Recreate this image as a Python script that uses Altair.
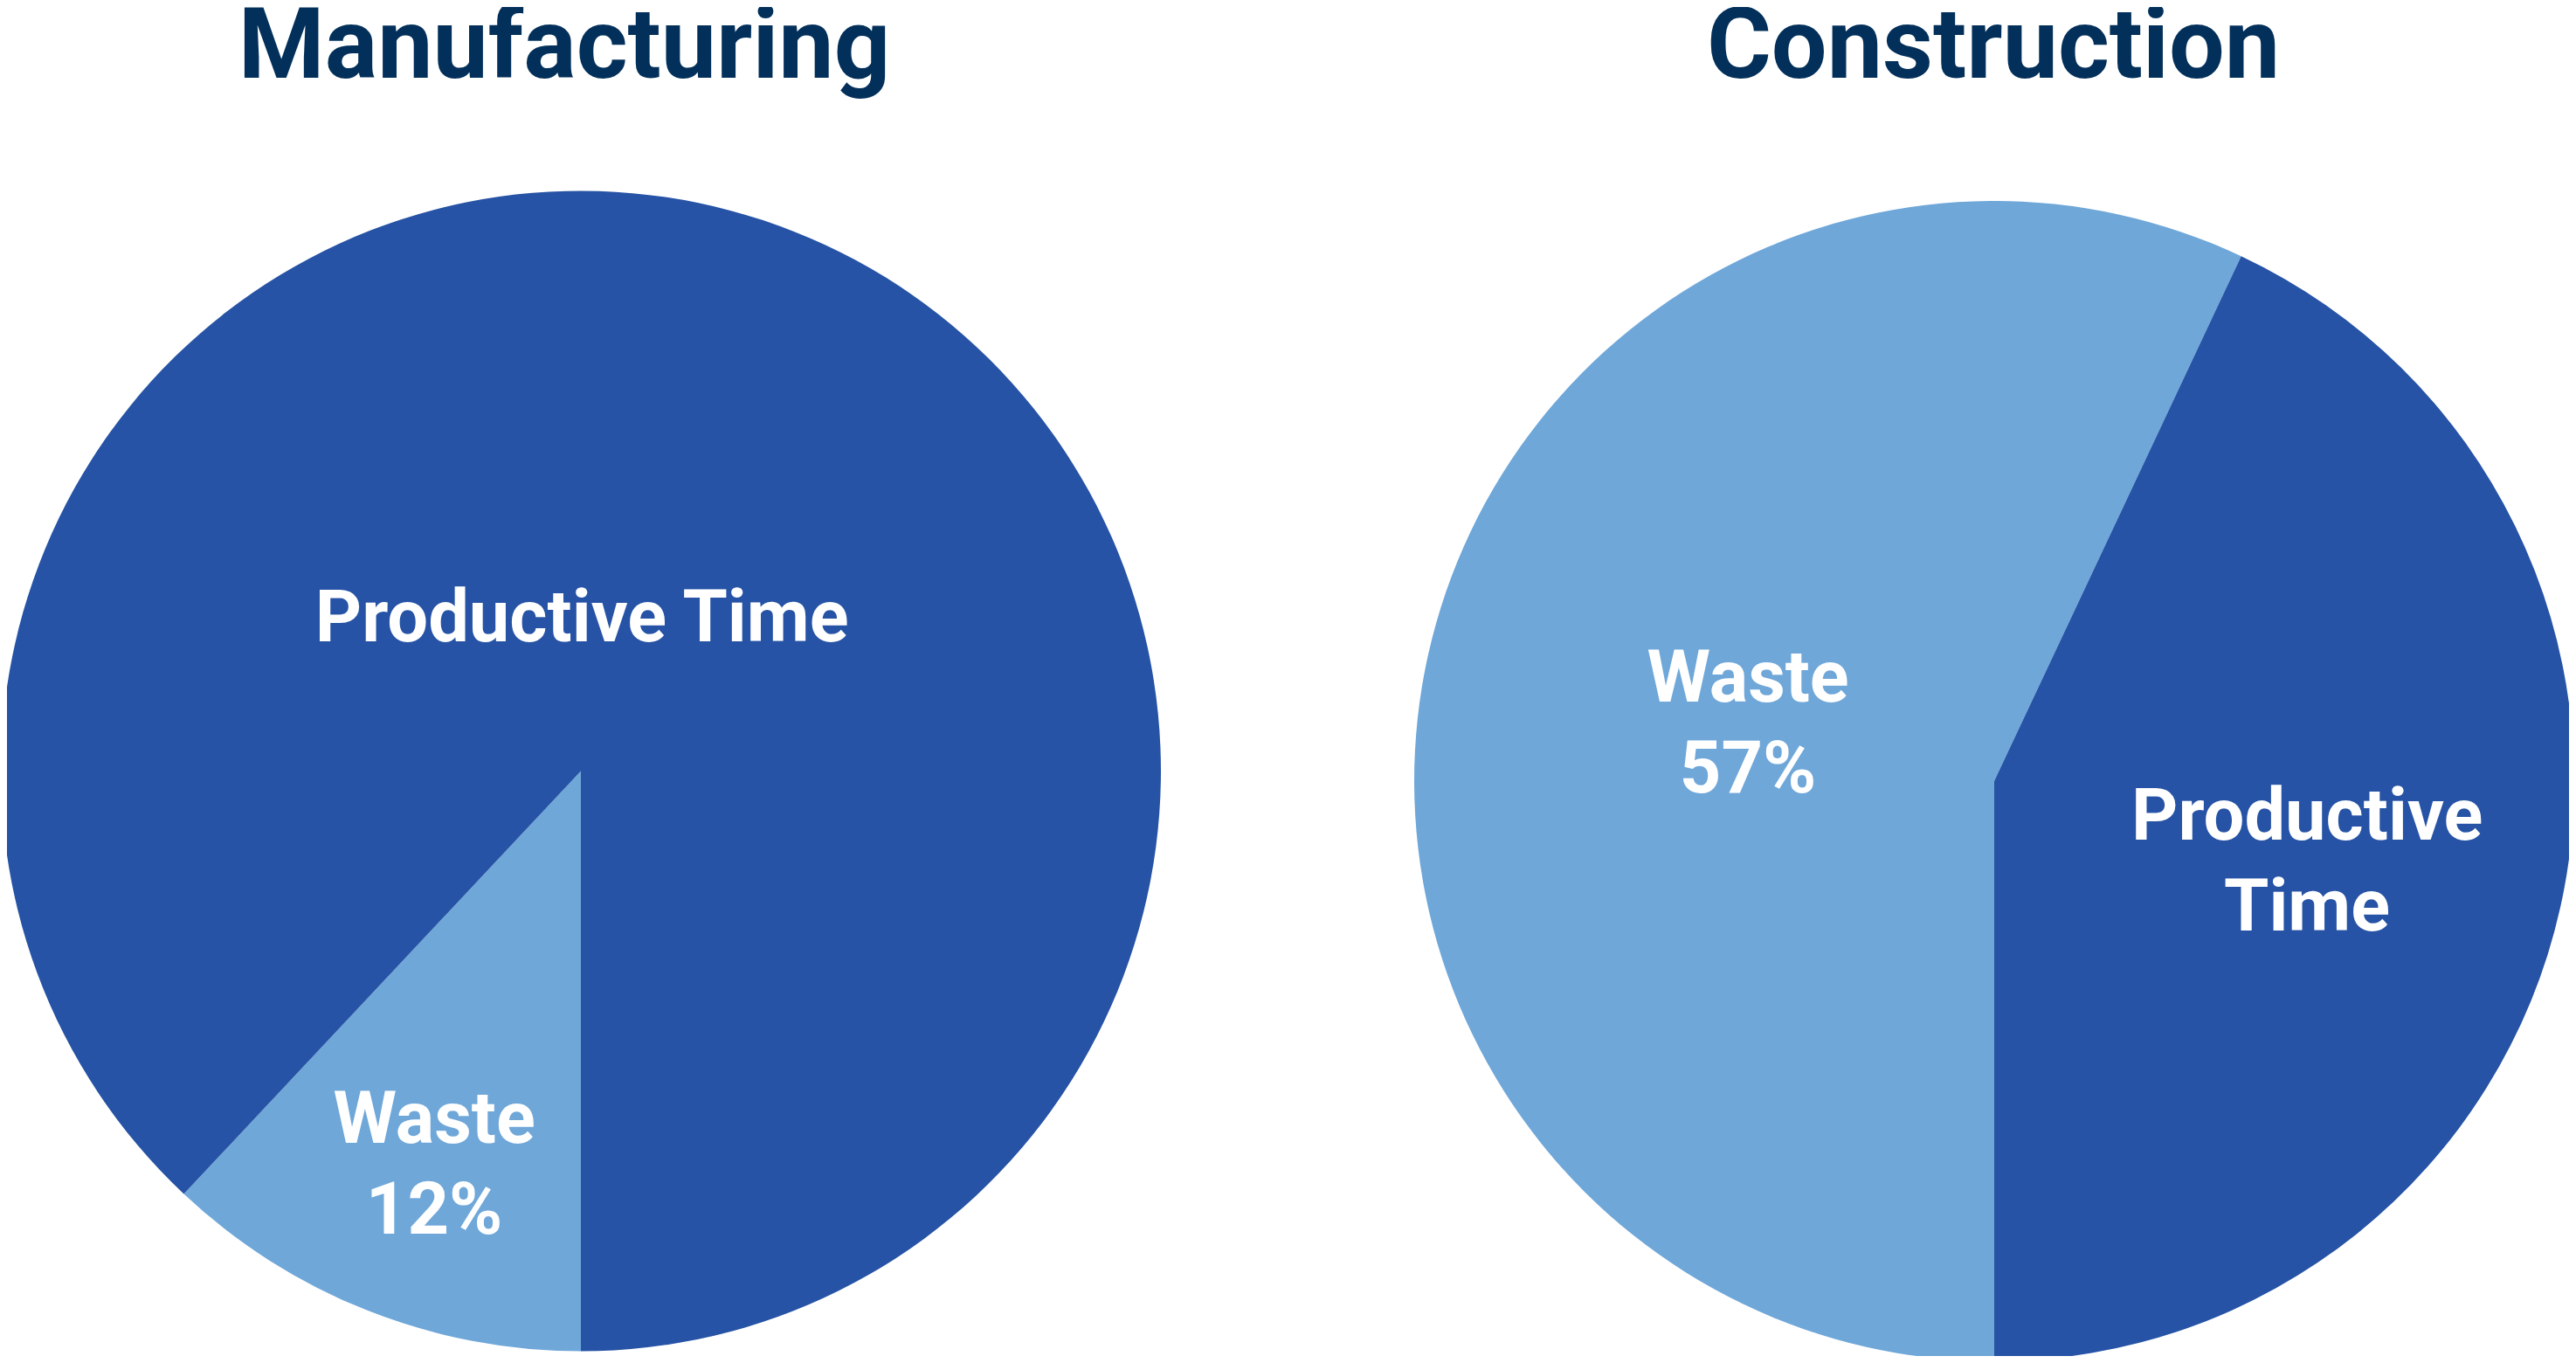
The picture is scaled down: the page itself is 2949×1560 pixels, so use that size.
import math
import altair as alt
import pandas as pd

# ---- data ----
panels = ["Manufacturing", "Construction"]
categories = ["Waste", "Productive Time"]
mfg_values = [12, 88]
con_values = [57, 43]

mfg_labels = ["Waste\n12%", "Productive Time"]
con_labels = ["Waste\n57%", "Productive\nTime"]

# ---- label placement (percent round the pie from its start, radius in px) ----
mfg_label_pos = [6.32, 50.1]
mfg_label_r = [434, 173.5]
con_label_pos = [31.23, 76.86]
con_label_r = [305, 360.5]

# ---- layout / style ----
W, H = 2933, 1544
R = 664
centers = {"Manufacturing": (657, 874.5), "Construction": (2275, 886)}
title_x = {"Manufacturing": 638, "Construction": 2274}
TITLE_Y = 81
LIGHT = "#6FA7D9"
DARK = "#2653A5"
NAVY = "#03305A"
FONT = "Roboto"

theta_scale = alt.Scale(domain=[0, 100], range=[math.pi, 3 * math.pi])
color_scale = alt.Scale(domain=categories, range=[LIGHT, DARK])


def pie(panel, values, labels, pos, rad):
    cx, cy = centers[panel]
    df = pd.DataFrame({"category": categories, "value": values,
                       "idx": list(range(len(categories)))})
    arc = alt.Chart(df).mark_arc(radius=R).encode(
        theta=alt.Theta("value:Q", stack=True, scale=theta_scale),
        color=alt.Color("category:N", scale=color_scale, legend=None),
        order=alt.Order("idx:Q"),
        x=alt.value(cx),
        y=alt.value(cy),
    )
    ldf = pd.DataFrame({"label": labels, "pos": pos, "r": rad})
    txt = alt.Chart(ldf).mark_text(
        font=FONT, fontWeight="bold", fontSize=83, color="white",
        align="center", baseline="middle", lineBreak="\n", lineHeight=104,
    ).encode(
        theta=alt.Theta("pos:Q", scale=theta_scale, stack=None),
        radius=alt.Radius("r:Q", scale=None),
        text="label:N",
        x=alt.value(cx),
        y=alt.value(cy),
    )
    tdf = pd.DataFrame({"title": [panel]})
    ttl = alt.Chart(tdf).mark_text(
        font=FONT, fontWeight="bold", fontSize=113, color=NAVY,
        align="center", baseline="alphabetic",
    ).encode(
        text="title:N",
        x=alt.value(title_x[panel]),
        y=alt.value(TITLE_Y),
    )
    return [arc, txt, ttl]


layers = pie("Manufacturing", mfg_values, mfg_labels, mfg_label_pos, mfg_label_r) + \
    pie("Construction", con_values, con_labels, con_label_pos, con_label_r)

chart = alt.layer(*layers).properties(
    width=W, height=H, padding=0,
    autosize=alt.AutoSizeParams(type="none"),
    background="white",
).configure_view(stroke=None)

chart.save("out.html", embed_options={"renderer": "svg", "actions": False})
